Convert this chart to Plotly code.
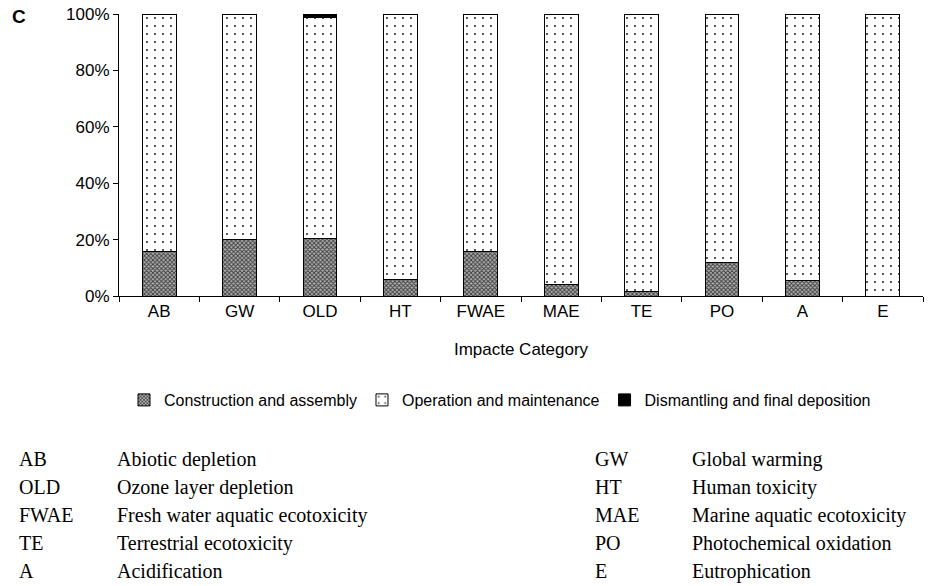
import plotly.graph_objects as go

categories = ["AB", "GW", "OLD", "HT", "FWAE", "MAE", "TE", "PO", "A", "E"]
construction = [0.158, 0.199, 0.204, 0.057, 0.157, 0.041, 0.015, 0.120, 0.054, 0.0]
dismantling = [0.0, 0.0, 0.014, 0.0, 0.0, 0.0, 0.0, 0.0, 0.0, 0.0]
operation = [1 - c - d for c, d in zip(construction, dismantling)]

abbr_left = ["AB", "OLD", "FWAE", "TE", "A"]
desc_left = ["Abiotic depletion", "Ozone layer depletion", "Fresh water aquatic ecotoxicity",
             "Terrestrial ecotoxicity", "Acidification"]
abbr_right = ["GW", "HT", "MAE", "PO", "E"]
desc_right = ["Global warming", "Human toxicity", "Marine aquatic ecotoxicity",
              "Photochemical oxidation", "Eutrophication"]

fig = go.Figure()
fig.add_bar(x=categories, y=construction, name="Construction and assembly",
            marker=dict(color="#9a9a9a", line=dict(color="black", width=1),
                        pattern=dict(shape="x", fgcolor="#3a3a3a", bgcolor="#b0b0b0",
                                     size=3, solidity=0.5, fillmode="replace")))
fig.add_bar(x=categories, y=operation, name="Operation and maintenance",
            marker=dict(color="white", line=dict(color="black", width=1),
                        pattern=dict(shape=".", fgcolor="#222222", bgcolor="white",
                                     size=8, solidity=0.05, fillmode="replace")))
fig.add_bar(x=categories, y=dismantling, name="Dismantling and final deposition",
            marker=dict(color="black", line=dict(color="black", width=1)))

L, R, T, B = 119, 23, 14, 290
W, H = 946, 586
pw, ph = W - L - R, H - T - B


def cx(x):
    return x / W


def cy(y):
    return 1 - y / H


def px(x):
    return (x - L) / pw


def py(y):
    return (H - B - y) / ph


ann = [dict(text="<b>C</b>", x=px(10), y=py(16), xref="paper", yref="paper",
            xanchor="left", yanchor="middle", showarrow=False,
            font=dict(family="Arial", size=19, color="black"))]

rows_y = [459, 487, 515, 543, 571]
serif = dict(family="Liberation Serif, Times New Roman, serif", size=20, color="black")
for i, yy in enumerate(rows_y):
    for xx, txt in [(17, abbr_left[i]), (115, desc_left[i]), (593, abbr_right[i]), (690, desc_right[i])]:
        ann.append(dict(text=txt, x=px(xx), y=py(yy), xref="paper", yref="paper",
                        xanchor="left", yanchor="middle", showarrow=False, font=serif))

fig.update_layout(
    barmode="stack", bargap=0.58,
    width=W, height=H,
    margin=dict(l=L, r=R, t=T, b=B, pad=0, autoexpand=False),
    paper_bgcolor="white", plot_bgcolor="white",
    font=dict(family="Arial", size=17, color="black"),
    showlegend=True,
    legend=dict(orientation="h", xref="container", yref="container",
                x=cx(500), xanchor="center", y=cy(400), yanchor="middle",
                font=dict(family="Arial", size=16), itemwidth=30, tracegroupgap=0,
                traceorder="normal"),
    annotations=ann,
)
fig.update_xaxes(showline=True, linecolor="black", linewidth=1, ticks="outside",
                 tickson="boundaries", ticklen=5, tickcolor="black", showgrid=False,
                 automargin=False,
                 title=dict(text="Impacte Category", font=dict(size=17), standoff=22))
fig.update_yaxes(range=[0, 1], tickvals=[0, 0.2, 0.4, 0.6, 0.8, 1.0], tickformat=".0%",
                 showline=True, linecolor="black", linewidth=1, ticks="outside",
                 ticklen=5, tickcolor="black", showgrid=False, zeroline=False,
                 automargin=False, tickfont=dict(size=17))

fig.write_html("out.html", config={"displayModeBar": False},
               post_script="document.body.style.margin='0';document.body.style.padding='0';")
